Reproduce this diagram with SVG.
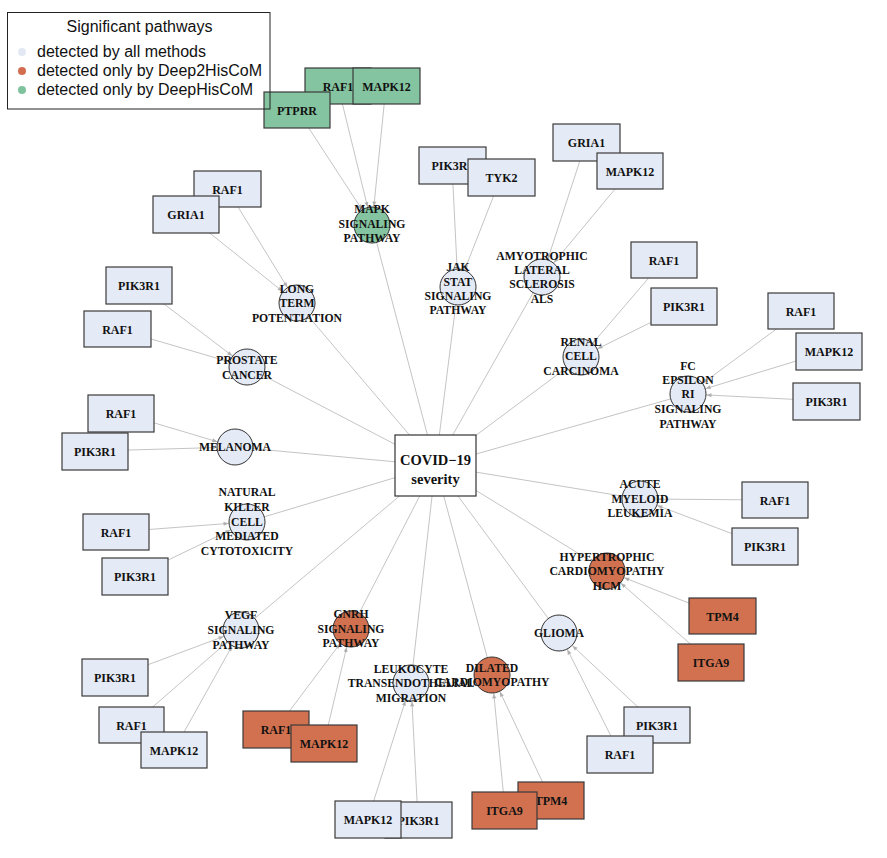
<svg xmlns="http://www.w3.org/2000/svg" width="887" height="858" viewBox="0 0 887 858">
<defs>
<style>
.e{stroke:#b5b5b5;stroke-width:0.8;fill:none}
.ea{stroke:#b5b5b5;stroke-width:0.8;fill:none;marker-end:url(#arr)}
.gb{stroke:#3a3a3a;stroke-width:1.2}
.b{fill:#e5ebf6}
.o{fill:#d27150}
.gr{fill:#85c4a0}
.pc{stroke:#333;stroke-width:1}
.gt{font-family:"Liberation Serif",serif;font-weight:bold;font-size:12px;fill:#111;text-anchor:middle}
.pt{font-family:"Liberation Serif",serif;font-weight:bold;font-size:11.7px;fill:#111;text-anchor:middle}
.ct{font-family:"Liberation Serif",serif;font-weight:bold;font-size:14.5px;fill:#111;text-anchor:middle}
.lt{font-family:"Liberation Sans",Arial,sans-serif;font-size:16px;fill:#111}
</style>
<marker id="arr" markerUnits="userSpaceOnUse" markerWidth="8" markerHeight="8" refX="18.5" refY="0" orient="auto" overflow="visible">
<path d="M0,0 L-5,-2 L-5,2 Z" fill="#b0b0b0"/>
</marker>
</defs>
<rect x="0" y="0" width="887" height="858" fill="#fff"/>
<g id="connectors">
<line class="e" x1="372" y1="225" x2="435.5" y2="465.5"/>
<line class="e" x1="297" y1="303" x2="435.5" y2="465.5"/>
<line class="e" x1="458" y1="287" x2="435.5" y2="465.5"/>
<line class="e" x1="542" y1="277" x2="435.5" y2="465.5"/>
<line class="e" x1="581" y1="357" x2="435.5" y2="465.5"/>
<line class="e" x1="688" y1="394" x2="435.5" y2="465.5"/>
<line class="e" x1="247" y1="367" x2="435.5" y2="465.5"/>
<line class="e" x1="235" y1="447" x2="435.5" y2="465.5"/>
<line class="e" x1="247" y1="522" x2="435.5" y2="465.5"/>
<line class="e" x1="640" y1="499" x2="435.5" y2="465.5"/>
<line class="e" x1="607" y1="571" x2="435.5" y2="465.5"/>
<line class="e" x1="559" y1="633" x2="435.5" y2="465.5"/>
<line class="e" x1="492" y1="675" x2="435.5" y2="465.5"/>
<line class="e" x1="411" y1="683" x2="435.5" y2="465.5"/>
<line class="e" x1="351" y1="629" x2="435.5" y2="465.5"/>
<line class="e" x1="241" y1="630" x2="435.5" y2="465.5"/>
<line class="ea" x1="297" y1="110" x2="372" y2="225"/>
<line class="ea" x1="338" y1="86" x2="372" y2="225"/>
<line class="ea" x1="386" y1="86" x2="372" y2="225"/>
<line class="ea" x1="227" y1="189" x2="297" y2="303"/>
<line class="ea" x1="186" y1="214" x2="297" y2="303"/>
<line class="ea" x1="452" y1="165" x2="458" y2="287"/>
<line class="ea" x1="501" y1="177" x2="458" y2="287"/>
<line class="ea" x1="586" y1="142" x2="542" y2="277"/>
<line class="ea" x1="630" y1="171" x2="542" y2="277"/>
<line class="ea" x1="664" y1="260" x2="581" y2="357"/>
<line class="ea" x1="684" y1="306" x2="581" y2="357"/>
<line class="ea" x1="801" y1="311" x2="688" y2="394"/>
<line class="ea" x1="829" y1="351" x2="688" y2="394"/>
<line class="ea" x1="826" y1="401" x2="688" y2="394"/>
<line class="ea" x1="139" y1="285" x2="247" y2="367"/>
<line class="ea" x1="117" y1="329" x2="247" y2="367"/>
<line class="ea" x1="121" y1="413" x2="235" y2="447"/>
<line class="ea" x1="95" y1="451" x2="235" y2="447"/>
<line class="ea" x1="116" y1="532" x2="247" y2="522"/>
<line class="ea" x1="135" y1="576" x2="247" y2="522"/>
<line class="ea" x1="775" y1="500" x2="640" y2="499"/>
<line class="ea" x1="765" y1="546" x2="640" y2="499"/>
<line class="ea" x1="722" y1="616" x2="607" y2="571"/>
<line class="ea" x1="711" y1="662" x2="607" y2="571"/>
<line class="ea" x1="657" y1="725" x2="559" y2="633"/>
<line class="ea" x1="620" y1="754" x2="559" y2="633"/>
<line class="ea" x1="551" y1="800" x2="492" y2="675"/>
<line class="ea" x1="505" y1="810" x2="492" y2="675"/>
<line class="ea" x1="418" y1="820" x2="411" y2="683"/>
<line class="ea" x1="368" y1="819" x2="411" y2="683"/>
<line class="ea" x1="276" y1="729" x2="351" y2="629"/>
<line class="ea" x1="324" y1="743" x2="351" y2="629"/>
<line class="ea" x1="115" y1="677" x2="241" y2="630"/>
<line class="ea" x1="132" y1="725" x2="241" y2="630"/>
<line class="ea" x1="174" y1="750" x2="241" y2="630"/>
</g>
<g id="covid-19-severity">
<rect x="395" y="435" width="81" height="61" fill="#fff" stroke="#333" stroke-width="1.2"/>
<text class="ct" x="435.5" y="465">COVID−19</text>
<text class="ct" x="435.5" y="484">severity</text>
</g>
<g id="mapk-signaling-pathway">
<circle class="pc gr" cx="372" cy="225" r="18"/>
<text class="pt"><tspan x="372" y="213">MAPK</tspan><tspan x="372" y="228">SIGNALING</tspan><tspan x="372" y="242">PATHWAY</tspan></text>
</g>
<g id="long-term-potentiation">
<circle class="pc b" cx="297" cy="303" r="18"/>
<text class="pt"><tspan x="297" y="293">LONG</tspan><tspan x="297" y="307">TERM</tspan><tspan x="297" y="322">POTENTIATION</tspan></text>
</g>
<g id="jak-stat-signaling-pathway">
<circle class="pc b" cx="458" cy="287" r="18"/>
<text class="pt"><tspan x="458" y="271">JAK</tspan><tspan x="458" y="286">STAT</tspan><tspan x="458" y="300">SIGNALING</tspan><tspan x="458" y="314">PATHWAY</tspan></text>
</g>
<g id="amyotrophic-lateral-sclerosis-als">
<circle class="pc b" cx="542" cy="277" r="18"/>
<text class="pt"><tspan x="542" y="260">AMYOTROPHIC</tspan><tspan x="542" y="274">LATERAL</tspan><tspan x="542" y="288">SCLEROSIS</tspan><tspan x="542" y="303">ALS</tspan></text>
</g>
<g id="renal-cell-carcinoma">
<circle class="pc b" cx="581" cy="357" r="18"/>
<text class="pt"><tspan x="581" y="346">RENAL</tspan><tspan x="581" y="360">CELL</tspan><tspan x="581" y="375">CARCINOMA</tspan></text>
</g>
<g id="fc-epsilon-ri-signaling-pathway">
<circle class="pc b" cx="688" cy="394" r="18"/>
<text class="pt"><tspan x="688" y="370">FC</tspan><tspan x="688" y="384">EPSILON</tspan><tspan x="688" y="398">RI</tspan><tspan x="688" y="413">SIGNALING</tspan><tspan x="688" y="428">PATHWAY</tspan></text>
</g>
<g id="prostate-cancer">
<circle class="pc b" cx="247" cy="367" r="18"/>
<text class="pt"><tspan x="247" y="364">PROSTATE</tspan><tspan x="247" y="379">CANCER</tspan></text>
</g>
<g id="melanoma">
<circle class="pc b" cx="235" cy="447" r="18"/>
<text class="pt"><tspan x="235" y="451">MELANOMA</tspan></text>
</g>
<g id="natural-killer-cell-mediated-cytotoxicity">
<circle class="pc b" cx="247" cy="522" r="18"/>
<text class="pt"><tspan x="247" y="496">NATURAL</tspan><tspan x="247" y="511">KILLER</tspan><tspan x="247" y="526">CELL</tspan><tspan x="247" y="540">MEDIATED</tspan><tspan x="247" y="555">CYTOTOXICITY</tspan></text>
</g>
<g id="acute-myeloid-leukemia">
<circle class="pc b" cx="640" cy="499" r="18"/>
<text class="pt"><tspan x="640" y="488">ACUTE</tspan><tspan x="640" y="503">MYELOID</tspan><tspan x="640" y="517">LEUKEMIA</tspan></text>
</g>
<g id="hypertrophic-cardiomyopathy-hcm">
<circle class="pc o" cx="607" cy="571" r="18"/>
<text class="pt"><tspan x="607" y="561">HYPERTROPHIC</tspan><tspan x="607" y="575">CARDIOMYOPATHY</tspan><tspan x="607" y="590">HCM</tspan></text>
</g>
<g id="glioma">
<circle class="pc b" cx="559" cy="633" r="18"/>
<text class="pt"><tspan x="559" y="637">GLIOMA</tspan></text>
</g>
<g id="dilated-cardiomyopathy">
<circle class="pc o" cx="492" cy="675" r="18"/>
<text class="pt"><tspan x="492" y="672">DILATED</tspan><tspan x="492" y="686">CARDIOMYOPATHY</tspan></text>
</g>
<g id="leukocyte-transendothelial-migration">
<circle class="pc b" cx="411" cy="683" r="18"/>
<text class="pt"><tspan x="411" y="673">LEUKOCYTE</tspan><tspan x="411" y="687">TRANSENDOTHELIAL</tspan><tspan x="411" y="702">MIGRATION</tspan></text>
</g>
<g id="gnrh-signaling-pathway">
<circle class="pc o" cx="351" cy="629" r="18"/>
<text class="pt"><tspan x="351" y="618">GNRH</tspan><tspan x="351" y="633">SIGNALING</tspan><tspan x="351" y="647">PATHWAY</tspan></text>
</g>
<g id="vegf-signaling-pathway">
<circle class="pc b" cx="241" cy="630" r="18"/>
<text class="pt"><tspan x="241" y="619">VEGF</tspan><tspan x="241" y="634">SIGNALING</tspan><tspan x="241" y="649">PATHWAY</tspan></text>
</g>
<g id="mapk-raf1"><rect class="gb gr" x="305" y="68" width="66" height="36"/><text class="gt" x="338" y="90.5">RAF1</text></g>
<g id="mapk-mapk12"><rect class="gb gr" x="353" y="68" width="67" height="36"/><text class="gt" x="386.5" y="90.5">MAPK12</text></g>
<g id="mapk-ptprr"><rect class="gb gr" x="264" y="92" width="66" height="36"/><text class="gt" x="297" y="114.5">PTPRR</text></g>
<g id="ltp-raf1"><rect class="gb b" x="194" y="171" width="67" height="36"/><text class="gt" x="227.5" y="193.5">RAF1</text></g>
<g id="ltp-gria1"><rect class="gb b" x="153" y="196" width="66" height="37"/><text class="gt" x="186" y="218.5">GRIA1</text></g>
<g id="jak-pik3r1"><rect class="gb b" x="419" y="147" width="67" height="37"/><text class="gt" x="452.5" y="169.5">PIK3R1</text></g>
<g id="jak-tyk2"><rect class="gb b" x="468" y="159" width="67" height="37"/><text class="gt" x="501.5" y="181.5">TYK2</text></g>
<g id="als-gria1"><rect class="gb b" x="553" y="124" width="67" height="37"/><text class="gt" x="586.5" y="146.5">GRIA1</text></g>
<g id="als-mapk12"><rect class="gb b" x="597" y="153" width="66" height="36"/><text class="gt" x="630" y="175.5">MAPK12</text></g>
<g id="renal-raf1"><rect class="gb b" x="631" y="242" width="66" height="36"/><text class="gt" x="664" y="264.5">RAF1</text></g>
<g id="renal-pik3r1"><rect class="gb b" x="651" y="288" width="66" height="37"/><text class="gt" x="684" y="310.5">PIK3R1</text></g>
<g id="fc-raf1"><rect class="gb b" x="768" y="293" width="66" height="36"/><text class="gt" x="801" y="315.5">RAF1</text></g>
<g id="fc-mapk12"><rect class="gb b" x="796" y="333" width="66" height="37"/><text class="gt" x="829" y="355.5">MAPK12</text></g>
<g id="fc-pik3r1"><rect class="gb b" x="793" y="383" width="67" height="37"/><text class="gt" x="826.5" y="405.5">PIK3R1</text></g>
<g id="prostate-pik3r1"><rect class="gb b" x="106" y="267" width="66" height="37"/><text class="gt" x="139" y="289.5">PIK3R1</text></g>
<g id="prostate-raf1"><rect class="gb b" x="84" y="311" width="67" height="36"/><text class="gt" x="117.5" y="333.5">RAF1</text></g>
<g id="melanoma-raf1"><rect class="gb b" x="88" y="395" width="66" height="37"/><text class="gt" x="121" y="417.5">RAF1</text></g>
<g id="melanoma-pik3r1"><rect class="gb b" x="62" y="433" width="66" height="37"/><text class="gt" x="95" y="455.5">PIK3R1</text></g>
<g id="nk-raf1"><rect class="gb b" x="83" y="514" width="66" height="36"/><text class="gt" x="116" y="536.5">RAF1</text></g>
<g id="nk-pik3r1"><rect class="gb b" x="102" y="558" width="66" height="37"/><text class="gt" x="135" y="580.5">PIK3R1</text></g>
<g id="aml-raf1"><rect class="gb b" x="742" y="482" width="66" height="36"/><text class="gt" x="775" y="504.5">RAF1</text></g>
<g id="aml-pik3r1"><rect class="gb b" x="732" y="528" width="66" height="37"/><text class="gt" x="765" y="550.5">PIK3R1</text></g>
<g id="hcm-tpm4"><rect class="gb o" x="689" y="598" width="67" height="36"/><text class="gt" x="722.5" y="620.5">TPM4</text></g>
<g id="hcm-itga9"><rect class="gb o" x="678" y="644" width="66" height="37"/><text class="gt" x="711" y="666.5">ITGA9</text></g>
<g id="glioma-pik3r1"><rect class="gb b" x="624" y="707" width="66" height="36"/><text class="gt" x="657" y="729.5">PIK3R1</text></g>
<g id="glioma-raf1"><rect class="gb b" x="587" y="736" width="66" height="37"/><text class="gt" x="620" y="758.5">RAF1</text></g>
<g id="dcm-tpm4"><rect class="gb o" x="518" y="782" width="66" height="37"/><text class="gt" x="551" y="804.5">TPM4</text></g>
<g id="dcm-itga9"><rect class="gb o" x="472" y="792" width="65" height="37"/><text class="gt" x="504.5" y="814.5">ITGA9</text></g>
<g id="ltm-pik3r1"><rect class="gb b" x="385" y="802" width="67" height="36"/><text class="gt" x="418.5" y="824.5">PIK3R1</text></g>
<g id="ltm-mapk12"><rect class="gb b" x="335" y="801" width="66" height="37"/><text class="gt" x="368" y="823.5">MAPK12</text></g>
<g id="gnrh-raf1"><rect class="gb o" x="243" y="711" width="66" height="37"/><text class="gt" x="276" y="733.5">RAF1</text></g>
<g id="gnrh-mapk12"><rect class="gb o" x="291" y="725" width="66" height="37"/><text class="gt" x="324" y="747.5">MAPK12</text></g>
<g id="vegf-pik3r1"><rect class="gb b" x="82" y="659" width="66" height="37"/><text class="gt" x="115" y="681.5">PIK3R1</text></g>
<g id="vegf-raf1"><rect class="gb b" x="99" y="707" width="65" height="36"/><text class="gt" x="131.5" y="729.5">RAF1</text></g>
<g id="vegf-mapk12"><rect class="gb b" x="141" y="732" width="66" height="36"/><text class="gt" x="174" y="754.5">MAPK12</text></g>
<g id="legend">
<rect x="7.5" y="12.5" width="262.5" height="96.5" fill="none" stroke="#222" stroke-width="1"/>
<text class="lt" x="139.5" y="32" text-anchor="middle">Significant pathways</text>
<circle cx="22" cy="52" r="4" fill="#e2e9f5"/>
<circle cx="22" cy="71" r="4" fill="#d46d4f"/>
<circle cx="22" cy="90" r="4" fill="#7fc39d"/>
<text class="lt" x="37" y="57">detected by all methods</text>
<text class="lt" x="37" y="76">detected only by Deep2HisCoM</text>
<text class="lt" x="37" y="95">detected only by DeepHisCoM</text>
</g>
</svg>
